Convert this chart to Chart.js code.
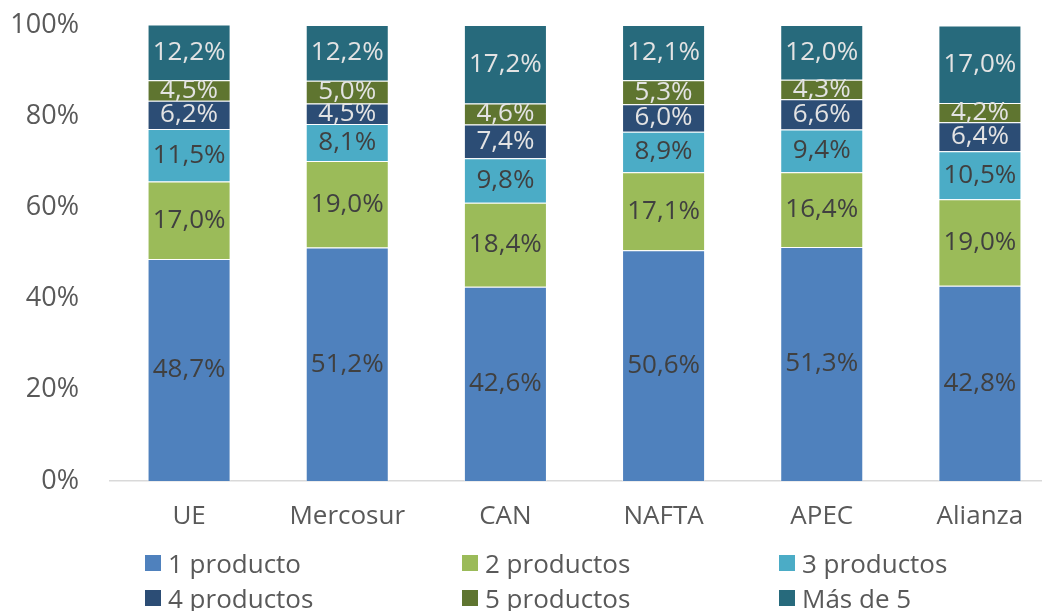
<!DOCTYPE html>
<html>
<head>
<meta charset="utf-8">
<script src="https://cdn.jsdelivr.net/npm/chart.js@4"></script>
<style>
  html, body { margin: 0; padding: 0; background: #fff; overflow: hidden; }
  #wrap { position: relative; width: 1060px; height: 611px; }
  #legend {
    position: absolute; left: 145px; top: 545px;
    display: grid; grid-template-columns: 317px 317px 317px; grid-auto-rows: 35px;
    font-family: "Open Sans", sans-serif; font-size: 26px; color: #595959;
  }
  #legend div { display: flex; align-items: center; white-space: nowrap; }
  #legend span { display: inline-block; width: 16px; height: 16px; margin-right: 7px; }
</style>
</head>
<body>
<div id="wrap">
  <canvas id="chart" width="1060" height="611"></canvas>
  <div id="legend"></div>
</div>
<script>
const categories = ["UE", "Mercosur", "CAN", "NAFTA", "APEC", "Alianza"];

const seriesNames = ["1 producto", "2 productos", "3 productos", "4 productos", "5 productos", "Más de 5"];

const unProducto    = [48.7, 51.2, 42.6, 50.6, 51.3, 42.8];
const dosProductos  = [17.0, 19.0, 18.4, 17.1, 16.4, 19.0];
const tresProductos = [11.5, 8.1, 9.8, 8.9, 9.4, 10.5];
const cuatroProd    = [6.2, 4.5, 7.4, 6.0, 6.6, 6.4];
const cincoProd     = [4.5, 5.0, 4.6, 5.3, 4.3, 4.2];
const masDeCinco    = [12.2, 12.2, 17.2, 12.1, 12.0, 17.0];

const yTicks = [0, 20, 40, 60, 80, 100];

const colors = ["#4f81bd", "#9bbb59", "#4bacc6", "#2c4d75", "#5f7530", "#276a7c"];
const labelColors = ["#404040", "#404040", "#404040", "#e3e3e3", "#e3e3e3", "#e3e3e3"];

const series = [unProducto, dosProductos, tresProductos, cuatroProd, cincoProd, masDeCinco];

const fmt = (v) => v.toFixed(1).replace(".", ",") + "%";

// etiquetas dentro de cada segmento
const valueLabels = {
  id: "valueLabels",
  afterDatasetsDraw(chart) {
    const ctx = chart.ctx;
    ctx.save();
    ctx.font = "26px 'Open Sans', sans-serif";
    ctx.textAlign = "center";
    ctx.textBaseline = "middle";
    chart.data.datasets.forEach((ds, i) => {
      const meta = chart.getDatasetMeta(i);
      ctx.fillStyle = labelColors[i];
      meta.data.forEach((bar, j) => {
        const p = bar.getCenterPoint();
        ctx.fillText(fmt(ds.data[j]), p.x, p.y);
      });
    });
    ctx.restore();
  }
};

new Chart(document.getElementById("chart"), {
  type: "bar",
  data: {
    labels: categories,
    datasets: series.map((d, i) => ({
      label: seriesNames[i],
      data: d,
      backgroundColor: colors[i],
      borderColor: "rgba(255,255,255,0.5)",
      borderWidth: 1,
      categoryPercentage: 1,
      barPercentage: 0.525,
    })),
  },
  options: {
    responsive: false,
    animation: false,
    layout: { padding: { top: 25, right: 1, bottom: 66, left: 0 } },
    plugins: {
      legend: { display: false },
      tooltip: { enabled: false },
    },
    scales: {
      x: {
        stacked: true,
        grid: { display: false, drawTicks: false },
        border: { color: "#d9d9d9", width: 1.5 },
        ticks: {
          color: "#595959",
          font: { family: "'Open Sans', sans-serif", size: 26 },
          padding: 20,
        },
        afterFit: (s) => { s.height = 64; s.paddingLeft = 0; s.paddingRight = 0; },
      },
      y: {
        stacked: true,
        min: 0,
        max: 100,
        afterBuildTicks: (s) => { s.ticks = yTicks.map((v) => ({ value: v })); },
        grid: { display: false, drawTicks: false },
        border: { display: false },
        ticks: {
          color: "#595959",
          font: { family: "'Open Sans', sans-serif", size: 27 },
          padding: 31,
          callback: (v) => v + "%",
        },
        afterFit: (s) => { s.width = 110; s.paddingTop = 0; s.paddingBottom = 0; },
      },
    },
  },
  plugins: [valueLabels],
});

const legend = document.getElementById("legend");
seriesNames.forEach((name, i) => {
  const item = document.createElement("div");
  const box = document.createElement("span");
  box.style.background = colors[i];
  item.appendChild(box);
  item.appendChild(document.createTextNode(name));
  legend.appendChild(item);
});
</script>
</body>
</html>
